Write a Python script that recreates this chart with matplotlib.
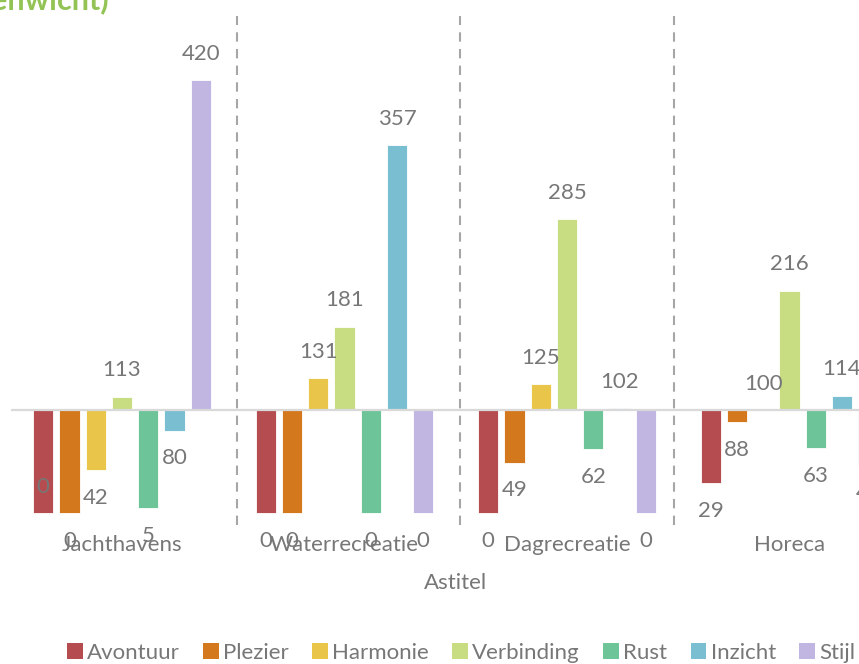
import matplotlib
matplotlib.use("Agg")
import matplotlib.pyplot as plt
from matplotlib.patches import Patch

# categories and series
astitels = ["Jachthavens", "Waterrecreatie", "Dagrecreatie", "Horeca"]
series = ["Avontuur", "Plezier", "Harmonie", "Verbinding", "Rust", "Inzicht", "Stijl"]

avontuur = [0, 0, 0, 29]
plezier = [0, 0, 49, 88]
harmonie = [42, 131, 125, 100]
verbinding = [113, 181, 285, 216]
rust = [5, 0, 62, 63]
inzicht = [80, 357, 102, 114]
stijl = [420, 0, 0, 46]

values = [avontuur, plezier, harmonie, verbinding, rust, inzicht, stijl]
colors = ["#b54c4f", "#d4781e", "#e9c54a", "#c8dd82", "#6dc499", "#7abfd1", "#c1b5e1"]

baseline = 100  # axis crosses at 100
text_col = "#777777"
font = "Lato"
fs = 16

fig = plt.figure(figsize=(8.59, 6.64), dpi=100)
ax = fig.add_axes([10.75 / 859, 1 - 554.2 / 664, 890 / 859, 556.2 / 664])
ax.set_xlim(-0.5, 3.5)
ax.set_ylim(-40, 500)
ax.axis("off")

step = 0.118
width = 0.09
for j, (name, vals, col) in enumerate(zip(series, values, colors)):
    for i, v in enumerate(vals):
        x = i + (j - 3) * step
        ax.bar(x, v - baseline, bottom=baseline, width=width, color=col,
               edgecolor="white", linewidth=0.6, zorder=2)
        if v >= baseline:
            off = 19
        elif i == 0 and j == 0:
            off = 19  # excel put this one inside the bar
        else:
            off = -20
        ax.annotate(str(v), (x, v), xytext=(0, off), textcoords="offset points",
                    ha="center", va="center", fontsize=fs, color=text_col,
                    family=font, annotation_clip=False)

ax.axhline(baseline, color="#d9d9d9", lw=1.6, zorder=3)

# dashed separators between the groups
for sx in [0.517, 1.519, 2.481]:
    ax.plot([sx, sx], [-12, 483], color="#a6a6a6", lw=1.5, ls=(0, (4.5, 3.5)), zorder=1)

for i, name in enumerate(astitels):
    ax.text(i, -31, name, ha="center", va="center", fontsize=fs, color=text_col,
            family=font)

fig.text(456 / 859, 1 - 583 / 664, "Astitel", ha="center", va="center", fontsize=fs,
         color=text_col, family=font)

# title, cut off at the top of the picture
fig.text(109 / 859, 1 - 10 / 664, "Belevingswaarden per astitel (evenwicht)", ha="right",
         va="baseline", fontsize=22, color="#93c355", family=font, fontweight="bold")

handles = [Patch(facecolor=c, label=s) for s, c in zip(series, colors)]
leg = fig.legend(handles=handles, loc="center left", bbox_to_anchor=(67 / 859, 1 - 653 / 664),
                 ncol=7, frameon=False, handlelength=0.7, handleheight=0.7,
                 handletextpad=0.2, columnspacing=1.05, borderpad=0, borderaxespad=0,
                 prop={"family": font, "size": 16})
for t in leg.get_texts():
    t.set_color(text_col)

fig.savefig("out.png", dpi=100)
